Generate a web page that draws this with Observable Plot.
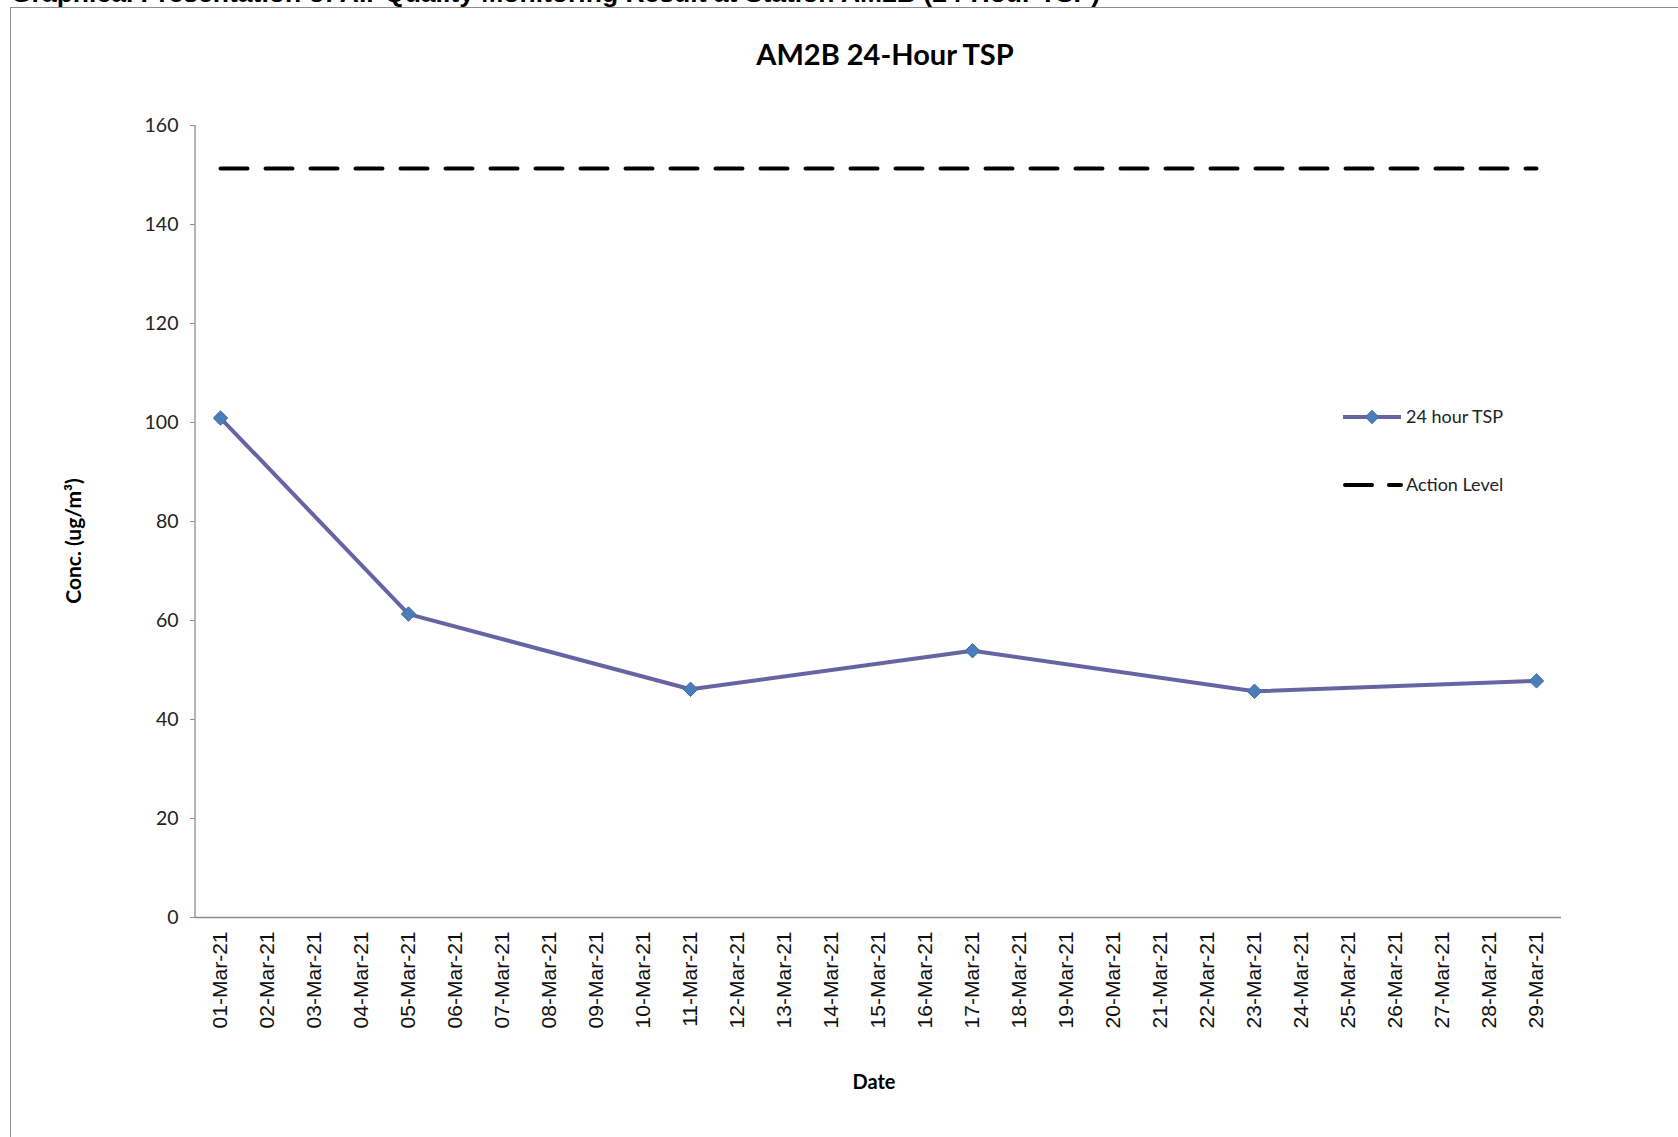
<!DOCTYPE html>
<html>
<head>
<meta charset="utf-8">
<script src="https://cdn.jsdelivr.net/npm/d3@7"></script>
<script src="https://cdn.jsdelivr.net/npm/@observablehq/plot@0.6"></script>
<style>
  body { margin: 0; background: #fff; }
  #wrap { position: relative; width: 1678px; height: 1137px; overflow: hidden; background: #fff; }
  #wrap > svg { position: absolute; left: 0; top: 0; }
  #box { position: absolute; left: 10px; top: 7px; width: 1700px; height: 1200px; border: 1px solid #8c8c8c; box-sizing: border-box; }
</style>
</head>
<body>
<div id="wrap"><div id="box"></div></div>
<script>
// ---- data ----
const dates = [
  "01-Mar-21","02-Mar-21","03-Mar-21","04-Mar-21","05-Mar-21","06-Mar-21","07-Mar-21",
  "08-Mar-21","09-Mar-21","10-Mar-21","11-Mar-21","12-Mar-21","13-Mar-21","14-Mar-21",
  "15-Mar-21","16-Mar-21","17-Mar-21","18-Mar-21","19-Mar-21","20-Mar-21","21-Mar-21",
  "22-Mar-21","23-Mar-21","24-Mar-21","25-Mar-21","26-Mar-21","27-Mar-21","28-Mar-21","29-Mar-21"
];
const sampleDates = ["01-Mar-21","05-Mar-21","11-Mar-21","17-Mar-21","23-Mar-21","29-Mar-21"];
const tspValues = [100.9, 61.3, 46.1, 53.9, 45.7, 47.8];
const actionLevel = 151.3;
const yTicks = [0, 20, 40, 60, 80, 100, 120, 140, 160];

const headerText = "Graphical Presentation of Air Quality Monitoring Result at Station AM2B (24-Hour TSP)";
const titleText = "AM2B 24-Hour TSP";
const yLabel = "Conc. (ug/m³)";
const xLabel = "Date";
const seriesNames = ["24 hour TSP", "Action Level"];

// ---- tables ----
const tsp = sampleDates.map((d, i) => ({date: d, value: tspValues[i]}));
const action = [dates[0], dates[dates.length - 1]].map(d => ({date: d, value: actionLevel}));

const lineColor = "#6565a3";
const markerFill = "#4a7ebb";
const markerStroke = "#3e6aa3";

const W = 1678, H = 1137;
const mL = 195, mR = 117, mT = 125, mB = 220;

const chart = Plot.plot({
  width: W,
  height: H,
  marginLeft: mL,
  marginRight: mR,
  marginTop: mT,
  marginBottom: mB,
  style: {background: "transparent", fontFamily: "Lato, sans-serif"},
  x: {type: "point", domain: dates, padding: 0.5, label: null},
  y: {domain: [0, 160], label: null},
  marks: [
    Plot.axisY({ticks: yTicks, tickSize: 5, tickPadding: 12, stroke: "#8c8c8c",
      fontSize: 19.5, fill: "#222", fontFamily: "Lato, sans-serif", label: null}),
    Plot.axisX({tickRotate: -90, tickSize: 0, tickPadding: 14, fontSize: 21,
      fill: "#111", fontFamily: "Liberation Sans, Arial, sans-serif", label: null}),
    Plot.ruleY([0], {stroke: "#8c8c8c", strokeWidth: 1.3}),
    Plot.line(action, {x: "date", y: "value", stroke: "#000", strokeWidth: 4,
      strokeDasharray: "27,18", strokeLinecap: "round"}),
    Plot.line(tsp, {x: "date", y: "value", stroke: lineColor, strokeWidth: 4}),
    Plot.dot(tsp, {x: "date", y: "value", symbol: "diamond2", r: 6.5,
      fill: markerFill, stroke: markerStroke, strokeWidth: 1})
  ]
});

// vertical axis line at the left of the frame
d3.select(chart).append("line")
  .attr("x1", mL).attr("x2", mL)
  .attr("y1", mT).attr("y2", H - mB)
  .attr("stroke", "#8c8c8c").attr("stroke-width", 1.3);

document.getElementById("wrap").appendChild(chart);

// ---- overlay: titles, labels, legend ----
const ov = d3.select("#wrap").append("svg")
  .attr("width", W).attr("height", H)
  .style("position", "absolute").style("left", 0).style("top", 0);

ov.append("text").attr("x", 11).attr("y", 2)
  .attr("font-family", "Liberation Sans, Arial, sans-serif").attr("font-weight", "bold")
  .attr("font-size", 26.5).attr("fill", "#000").text(headerText);

ov.append("text").attr("x", 885).attr("y", 65).attr("text-anchor", "middle")
  .attr("font-family", "Lato, sans-serif").attr("font-weight", "bold")
  .attr("font-size", 29).attr("fill", "#000").text(titleText);

ov.append("text").attr("transform", "translate(81,541) rotate(-90)").attr("text-anchor", "middle")
  .attr("font-family", "Lato, sans-serif").attr("font-weight", "bold")
  .attr("font-size", 21).attr("fill", "#000").text(yLabel);

ov.append("text").attr("x", 874).attr("y", 1089).attr("text-anchor", "middle")
  .attr("font-family", "Lato, sans-serif").attr("font-weight", "bold")
  .attr("font-size", 20).attr("fill", "#000").text(xLabel);

// legend
const lg = ov.append("g").attr("font-family", "Lato, sans-serif").attr("font-size", 18).attr("fill", "#222");
lg.append("line").attr("x1", 1343).attr("x2", 1401).attr("y1", 417).attr("y2", 417)
  .attr("stroke", lineColor).attr("stroke-width", 4);
lg.append("path").attr("d", d3.symbol(d3.symbolDiamond2, Math.PI * 36)())
  .attr("transform", "translate(1372,417)").attr("fill", markerFill).attr("stroke", markerStroke);
lg.append("text").attr("x", 1406).attr("y", 423).text(seriesNames[0]);
lg.append("line").attr("x1", 1345).attr("x2", 1401).attr("y1", 485).attr("y2", 485)
  .attr("stroke", "#000").attr("stroke-width", 4).attr("stroke-linecap", "round")
  .attr("stroke-dasharray", "27,17");
lg.append("text").attr("x", 1406).attr("y", 491).text(seriesNames[1]);
</script>
</body>
</html>
